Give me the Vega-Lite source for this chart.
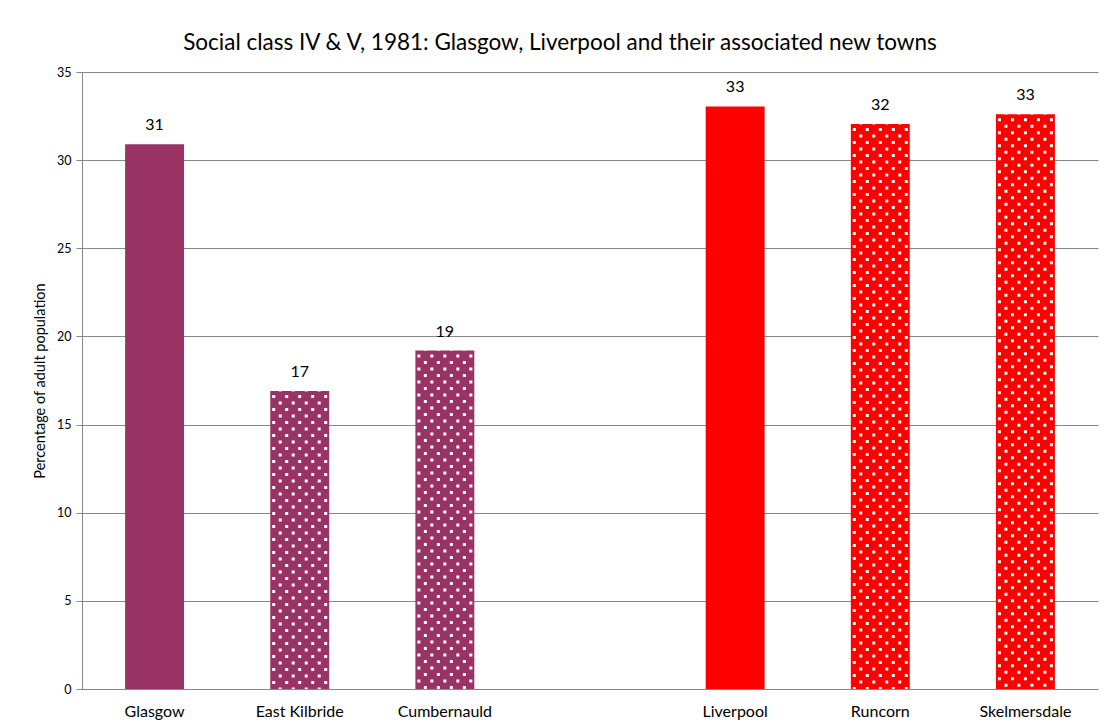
{
  "$schema": "https://vega.github.io/schema/vega-lite/v6.json",
  "width": 1016,
  "height": 617,
  "autosize": {"type": "none"},
  "padding": {"left": 82, "top": 72, "right": 8, "bottom": 37},
  "background": "white",
  "title": {
    "text": "Social class IV & V, 1981: Glasgow, Liverpool and their associated new towns",
    "font": "Lato",
    "fontSize": 22.5,
    "fontWeight": "normal",
    "color": "#000000",
    "anchor": "middle",
    "dx": -30,
    "offset": 12
  },
  "config": {
    "view": {"stroke": null},
    "axis": {"labelFont": "Lato", "titleFont": "Lato", "labelColor": "#000000", "titleColor": "#000000"}
  },
  "data": {
    "values": [
      {"town": "Glasgow", "value": 30.9, "city": "Glasgow", "kind": "city"},
      {"town": "East Kilbride", "value": 16.9, "city": "Glasgow", "kind": "new town"},
      {"town": "Cumbernauld", "value": 19.2, "city": "Glasgow", "kind": "new town"},
      {"town": "Liverpool", "value": 33.05, "city": "Liverpool", "kind": "city"},
      {"town": "Runcorn", "value": 32.05, "city": "Liverpool", "kind": "new town"},
      {"town": "Skelmersdale", "value": 32.6, "city": "Liverpool", "kind": "new town"}
    ]
  },
  "encoding": {
    "x": {
      "field": "town",
      "type": "nominal",
      "sort": null,
      "scale": {
        "domain": ["Glasgow", "East Kilbride", "Cumbernauld", " ", "Liverpool", "Runcorn", "Skelmersdale"],
        "paddingInner": 0.594,
        "paddingOuter": 0.297
      },
      "axis": {
        "title": null,
        "labelAngle": 0,
        "ticks": false,
        "labelFontSize": 16,
        "labelPadding": 14,
        "domainColor": "#878787",
        "grid": false
      }
    },
    "y": {
      "field": "value",
      "type": "quantitative",
      "scale": {"domain": [0, 35], "nice": false},
      "axis": {
        "title": "Percentage of adult population",
        "titleFontSize": 14.5,
        "titleFontWeight": "normal",
        "titlePadding": 9,
        "values": [0, 5, 10, 15, 20, 25, 30, 35],
        "labelFontSize": 12.5,
        "labelPadding": 5,
        "tickSize": 6,
        "tickColor": "#878787",
        "domainColor": "#878787",
        "gridColor": "#878787",
        "grid": true
      }
    }
  },
  "layer": [
    {
      "mark": {"type": "bar"},
      "encoding": {
        "color": {
          "field": "city",
          "type": "nominal",
          "scale": {"domain": ["Glasgow", "Liverpool"], "range": ["#993366", "#FF0000"]},
          "legend": null
        }
      }
    },
    {
      "transform": [{"filter": "datum.kind === 'new town'"}],
      "mark": {"type": "rule", "color": "white", "strokeWidth": 3, "strokeDash": [3, 10], "strokeDashOffset": -4, "xOffset": -26},
      "encoding": {"y2": {"datum": 0}}
    },
    {
      "transform": [{"filter": "datum.kind === 'new town'"}],
      "mark": {"type": "rule", "color": "white", "strokeWidth": 3, "strokeDash": [3, 10], "strokeDashOffset": -10.5, "xOffset": -19.5},
      "encoding": {"y2": {"datum": 0}}
    },
    {
      "transform": [{"filter": "datum.kind === 'new town'"}],
      "mark": {"type": "rule", "color": "white", "strokeWidth": 3, "strokeDash": [3, 10], "strokeDashOffset": -4, "xOffset": -13},
      "encoding": {"y2": {"datum": 0}}
    },
    {
      "transform": [{"filter": "datum.kind === 'new town'"}],
      "mark": {"type": "rule", "color": "white", "strokeWidth": 3, "strokeDash": [3, 10], "strokeDashOffset": -10.5, "xOffset": -6.5},
      "encoding": {"y2": {"datum": 0}}
    },
    {
      "transform": [{"filter": "datum.kind === 'new town'"}],
      "mark": {"type": "rule", "color": "white", "strokeWidth": 3, "strokeDash": [3, 10], "strokeDashOffset": -4, "xOffset": 0},
      "encoding": {"y2": {"datum": 0}}
    },
    {
      "transform": [{"filter": "datum.kind === 'new town'"}],
      "mark": {"type": "rule", "color": "white", "strokeWidth": 3, "strokeDash": [3, 10], "strokeDashOffset": -10.5, "xOffset": 6.5},
      "encoding": {"y2": {"datum": 0}}
    },
    {
      "transform": [{"filter": "datum.kind === 'new town'"}],
      "mark": {"type": "rule", "color": "white", "strokeWidth": 3, "strokeDash": [3, 10], "strokeDashOffset": -4, "xOffset": 13},
      "encoding": {"y2": {"datum": 0}}
    },
    {
      "transform": [{"filter": "datum.kind === 'new town'"}],
      "mark": {"type": "rule", "color": "white", "strokeWidth": 3, "strokeDash": [3, 10], "strokeDashOffset": -10.5, "xOffset": 19.5},
      "encoding": {"y2": {"datum": 0}}
    },
    {
      "transform": [{"filter": "datum.kind === 'new town'"}],
      "mark": {"type": "rule", "color": "white", "strokeWidth": 3, "strokeDash": [3, 10], "strokeDashOffset": -4, "xOffset": 26},
      "encoding": {"y2": {"datum": 0}}
    },
    {
      "mark": {"type": "text", "font": "Lato", "fontSize": 16, "color": "#000000", "dy": -11, "baseline": "bottom"},
      "encoding": {"text": {"field": "value", "type": "quantitative", "format": ".0f"}}
    }
  ]
}
